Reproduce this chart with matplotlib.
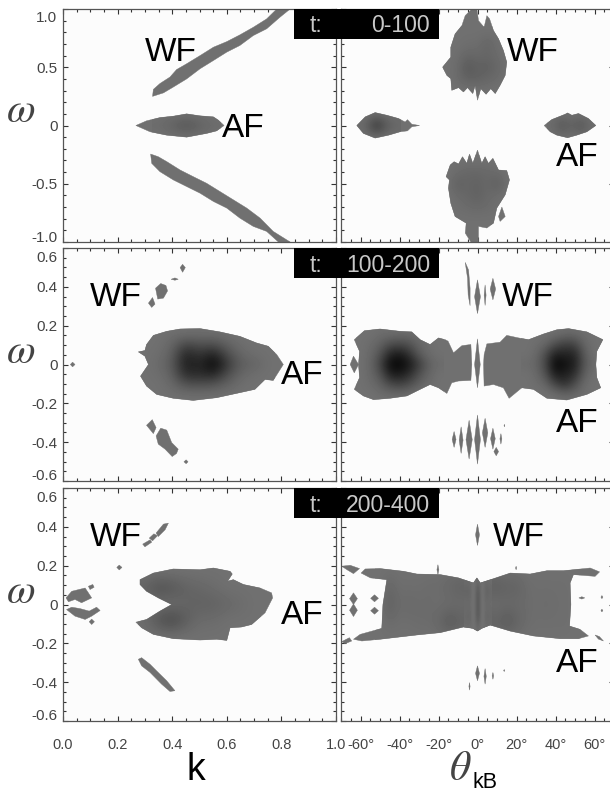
import numpy as np
import matplotlib
matplotlib.use('Agg')
import matplotlib.pyplot as plt
from matplotlib.patches import Polygon, Rectangle
from matplotlib.ticker import MultipleLocator
from matplotlib.transforms import ScaledTranslation

plt.rcParams['font.family'] = ['Liberation Sans', 'DejaVu Sans']
plt.rcParams['mathtext.fontset'] = 'stix'

W, H = 610, 794
BASE = 0.44
BG = '#fcfcfc'

#%% tick labels and text
k_ticks = [0.0, 0.2, 0.4, 0.6, 0.8, 1.0]
theta_ticks = [-60, -40, -20, 0, 20, 40, 60]
w_ticks_top = [-1.0, -0.5, 0, 0.5, 1.0]
w_labels_top = ['-1.0', '-0.5', '0', '0.5', '1.0']
w_ticks = [-0.6, -0.4, -0.2, 0, 0.2, 0.4, 0.6]
w_labels = ['-0.6', '-0.4', '-0.2', '0', '0.2', '0.4', '0.6']
time_labels = ['0-100', '100-200', '200-400']

#%% panel 1, k
p1k_wf_up = [(.328,.25),(.331,.31),(.355,.36),(.392,.416),(.416,.48),(.453,.53),(.502,.60),(.551,.672),(.60,.72),(.648,.778),(.697,.843),(.746,.915),(.783,1.0),(.832,1.0),(.795,.93),(.746,.83),(.697,.772),(.648,.687),(.60,.63),(.551,.558),(.502,.487),(.453,.40),(.404,.33),(.368,.28)]
p1k_af = [(.267,0),(.306,.04),(.355,.068),(.404,.08),(.453,.10),(.502,.083),(.551,.074),(.569,.046),(.59,0),(.563,-.046),(.526,-.068),(.453,-.10),(.38,-.083),(.319,-.054)]
p1k_wf_dn = [(.321,-.245),(.349,-.268),(.38,-.31),(.429,-.382),(.477,-.439),(.526,-.496),(.575,-.567),(.624,-.638),(.673,-.709),(.722,-.795),(.77,-.909),(.832,-1.0),(.789,-1.0),(.746,-.909),(.697,-.866),(.648,-.795),(.60,-.709),(.551,-.652),(.502,-.581),(.453,-.524),(.404,-.467),(.355,-.396),(.325,-.325)]
p1k_af_x = [.35, .40, .45, .50, .55]
p1k_af_y = [-.1, 0, .1]
p1k_af_v = [[.44,.44,.44,.44,.44],[.42,.38,.32,.38,.42],[.44,.44,.44,.44,.44]]

#%% panel 1, theta
p1t_wf_up = [(0,.217),(1.7,.316),(4.4,.268),(6.8,.316),(9.1,.274),(11.6,.345),(14.2,.43),(15,.544),(13.3,.644),(10.8,.744),(8.2,.815),(6.2,.915),(4.8,.943),(3.4,.843),(.5,.90),(-.3,1.0),(-2.9,1.0),(-6.3,.943),(-8,.858),(-11.5,.786),(-13.7,.672),(-13.7,.587),(-17.9,.501),(-15.7,.43),(-13.7,.402),(-13.2,.302),(-9.7,.325),(-7.2,.288),(-5.1,.325),(-2.4,.274),(-1.2,.345)]
p1t_wf_dn = [(0,-.211),(2.2,-.325),(3.9,-.268),(5.6,-.325),(7.9,-.282),(10.8,-.382),(15,-.387),(16.4,-.467),(14.2,-.595),(9.9,-.709),(8.2,-.838),(4.8,-.88),(.5,-.866),(.5,-1),(-3.4,-1),(-6.3,-.923),(-5.8,-.838),(-11.5,-.781),(-13.7,-.667),(-14.9,-.538),(-14.4,-.467),(-16.1,-.439),(-14,-.339),(-12,-.311),(-9.7,-.33),(-7.7,-.268),(-5.5,-.325),(-4.1,-.245),(-2.4,-.325)]
p1t_island = [(10.8,-.781),(12.5,-.70),(14.2,-.781),(11.6,-.823)]
p1t_af_l = [(-61.9,0),(-57.6,.074),(-52.5,.111),(-46.5,.088),(-40.5,.06),(-37.1,.03),(-35.9,.05),(-33.7,.011),(-29.7,0),(-33.7,-.011),(-35.9,-.046),(-39.7,-.054),(-45.6,-.083),(-52.5,-.108),(-58.5,-.068)]
p1t_af_r = [(34.2,0),(38.1,.051),(45,.097),(46.2,.108),(48.4,.088),(51.8,.103),(56.9,.06),(60.7,0),(56.1,-.054),(50.9,-.083),(46.2,-.105),(40.7,-.083),(37.3,-.054)]
p1t_up_x = [-15, -10, -5, 0, 5, 10, 15]
p1t_up_y = [.3, .4, .5, .6, .7, .8]
p1t_up_v = [[.44]*7,[.44,.42,.38,.38,.40,.42,.44],[.44,.42,.34,.38,.37,.40,.44],[.44,.43,.40,.41,.40,.42,.44],[.44,.44,.43,.43,.39,.43,.44],[.44]*7]
p1t_dn_x = [-15, -10, -5, 0, 5, 10, 15]
p1t_dn_y = [-.8, -.7, -.6, -.5, -.4, -.3]
p1t_dn_v = [[.44]*7,[.44,.43,.42,.41,.42,.43,.44],[.44,.42,.40,.38,.41,.43,.44],[.44,.37,.40,.38,.41,.36,.44],[.44,.42,.40,.40,.41,.42,.44],[.44]*7]
p1t_afl_x = [-62, -57, -52, -47, -42]
p1t_afl_y = [-.1, 0, .1]
p1t_afl_v = [[.44]*5,[.42,.38,.18,.34,.40],[.44]*5]
p1t_afr_x = [38, 43, 48, 53, 58]
p1t_afr_y = [-.1, 0, .1]
p1t_afr_v = [[.44]*5,[.42,.32,.38,.32,.42],[.44]*5]

#%% panel 2, k
p2k_af = [(.276,.065),(.30,.072),(.306,.103),(.331,.15),(.38,.171),(.429,.183),(.502,.185),(.575,.168),(.648,.145),(.709,.111),(.752,.094),(.783,.051),(.807,0),(.77,-.082),(.74,-.077),(.703,-.128),(.648,-.145),(.563,-.171),(.477,-.185),(.404,-.174),(.343,-.154),(.306,-.111),(.284,-.06),(.313,0),(.30,.043)]
p2k_af_x = [.30, .35, .40, .45, .50, .55, .60, .65, .70, .75]
p2k_af_y = [-.2, -.15, -.1, -.05, 0, .05, .1, .15, .2]
p2k_af_v = [[.44]*10,
    [.44,.44,.43,.42,.42,.42,.43,.44,.44,.44],
    [.44,.44,.41,.31,.30,.32,.38,.43,.44,.44],
    [.44,.43,.38,.16,.18,.13,.30,.40,.43,.44],
    [.44,.42,.36,.10,.16,.02,.22,.37,.39,.44],
    [.44,.43,.38,.13,.22,.12,.30,.40,.43,.44],
    [.44,.44,.40,.27,.32,.30,.38,.43,.44,.44],
    [.44,.44,.43,.42,.42,.42,.43,.44,.44,.44],
    [.44]*10]
p2k_small = [
    [(.339,.393),(.358,.417),(.377,.407),(.383,.379),(.368,.342),(.347,.337)],
    [(.313,.316),(.328,.345),(.337,.311),(.325,.294)],
    [(.396,.439),(.41,.446),(.422,.439),(.41,.434)],
    [(.429,.499),(.438,.516),(.448,.499),(.438,.475)],
    [(.027,0),(.035,.012),(.044,0),(.035,-.012)],
    [(.306,-.313),(.327,-.284),(.341,-.325),(.331,-.356)],
    [(.341,-.368),(.358,-.328),(.38,-.338),(.398,-.402),(.422,-.436),(.416,-.458),(.40,-.474),(.374,-.436),(.349,-.41)],
    [(.443,-.501),(.451,-.491),(.458,-.501),(.451,-.511)],
]

#%% panel 2, theta
p2t_left = [(-63.2,.128),(-58,.174),(-50,.183),(-39.7,.171),(-33.7,.168),(-29.4,.128),(-24.3,.103),(-20,.137),(-16.6,.128),(-15.1,.12),(-12.3,.06),(-8,.097),(-3.4,.103),(-2.9,0),(-3.4,-.082),(-9.7,-.085),(-13.2,-.094),(-15.7,-.149),(-20,-.12),(-24.3,-.103),(-29.4,-.128),(-36.2,-.162),(-44.8,-.174),(-53.3,-.181),(-58.5,-.162),(-63.2,-.128),(-60.5,-.068),(-61,0),(-60.5,.068)]
p2t_right = [(4.8,.106),(11.6,.115),(15,.15),(21,.137),(26.2,.128),(33.8,.157),(40.7,.179),(46.7,.185),(56.1,.168),(64.3,.128),(61.2,.068),(60.7,0),(61.2,-.068),(63.2,-.12),(56.1,-.154),(45.8,-.183),(35.6,-.174),(28.7,-.128),(22.7,-.12),(16.2,-.174),(13.3,-.12),(8.2,-.103),(3.4,-.111),(3.1,0),(3.4,.051)]
p2t_mid = [(0,.132),(1.4,0),(0,-.12),(-1.5,0)]
p2t_side = [(-65.3,0),(-63.6,.043),(-61,0),(-63.2,-.043)]
p2t_curve = [(-6.3,.526),(-4.6,.487),(-3.8,.393),(-3.8,.303),(-4.8,.359),(-5.1,.444)]
p2t_left_x = [-60, -55, -50, -45, -40, -35, -30, -25, -20]
p2t_left_y = [-.2, -.15, -.1, -.05, 0, .05, .1, .15, .2]
p2t_left_v = [[.44]*9,
    [.44,.44,.42,.41,.40,.42,.44,.44,.44],
    [.44,.42,.38,.28,.25,.30,.38,.42,.44],
    [.44,.41,.32,.12,.10,.18,.32,.40,.44],
    [.44,.40,.26,.04,.02,.10,.24,.38,.42],
    [.44,.41,.32,.14,.10,.20,.36,.42,.44],
    [.44,.42,.38,.30,.28,.32,.40,.43,.44],
    [.44,.44,.42,.42,.41,.41,.43,.44,.44],
    [.44]*9]
p2t_right_x = [25, 30, 35, 40, 45, 50, 55, 60, 65]
p2t_right_y = [-.2, -.15, -.1, -.05, 0, .05, .1, .15, .2]
p2t_right_v = [[.44]*9,
    [.44,.44,.44,.42,.38,.40,.43,.44,.44],
    [.44,.43,.40,.26,.18,.30,.42,.44,.44],
    [.44,.42,.32,.10,.12,.18,.38,.44,.44],
    [.42,.40,.28,.02,.06,.12,.34,.42,.44],
    [.44,.42,.30,.12,.14,.14,.36,.44,.44],
    [.44,.43,.40,.30,.24,.26,.40,.44,.44],
    [.44,.44,.44,.43,.40,.40,.43,.44,.44],
    [.44]*9]
# spindles: centre angle, top, bottom, half width
p2t_sp_t = [0, 3.9, 7.9, -12, -8.4, -4.3, 0, 3.9, 7.9, 12, 9.6, 13.8]
p2t_sp_hi = [.436, .41, .444, -.345, -.321, -.287, -.26, -.277, -.328, -.356, -.427, -.308]
p2t_sp_lo = [.262, .304, .333, -.427, -.458, -.487, -.513, -.427, -.436, -.41, -.47, -.321]
p2t_sp_hw = [1.5, .5, 1.4, 1, 1, 1.6, 1.5, 1.4, 1.2, .5, 1.2, .2]

#%% panel 3, k
p3k_af = [(.282,.103),(.282,.128),(.331,.162),(.404,.183),(.502,.179),(.551,.188),(.612,.171),(.62,.157),(.603,.12),(.624,.128),(.661,.103),(.722,.085),(.764,.06),(.768,.034),(.74,-.043),(.691,-.103),(.654,-.116),(.612,-.12),(.60,-.185),(.563,-.179),(.502,-.183),(.404,-.176),(.331,-.154),(.288,-.12),(.267,-.091),(.306,-.077),(.355,-.034),(.398,0),(.349,.034),(.306,.068)]
p3k_af_x = [.30, .35, .40, .45, .50, .55, .60, .65, .70]
p3k_af_y = [-.16, -.08, 0, .08, .16]
p3k_af_v = [[.44]*9,[.42,.32,.26,.36,.42,.42,.44,.44,.44],[.44,.44,.44,.40,.38,.38,.40,.42,.44],[.38,.30,.33,.38,.40,.42,.44,.44,.44],[.44]*9]
p3k_small = [
    [(.011,.034),(.032,.068),(.081,.085),(.093,.06),(.105,.034),(.068,.009),(.044,.026),(.02,.014)],
    [(.093,.094),(.109,.103),(.114,.089),(.099,.077)],
    [(.013,-.026),(.032,-.014),(.062,-.021),(.096,-.034),(.123,-.014),(.136,-.031),(.105,-.06),(.081,-.077),(.044,-.06)],
    [(.096,-.089),(.105,-.075),(.115,-.089),(.105,-.103)],
    [(.197,.191),(.206,.203),(.216,.191),(.206,.178)],
    [(.292,.311),(.319,.333),(.325,.321),(.30,.297)],
    [(.316,.342),(.333,.364),(.346,.354),(.328,.328)],
    [(.341,.368),(.368,.414),(.386,.419),(.374,.385),(.349,.35)],
    [(.276,-.282),(.288,-.274),(.319,-.308),(.343,-.342),(.38,-.393),(.41,-.444),(.392,-.448),(.361,-.41),(.319,-.35),(.288,-.316)],
]

#%% panel 3, theta
p3t_main = [(-59.7,.162),(-57.6,.183),(-49.9,.185),(-37.9,.171),(-31.1,.157),(-19.1,.154),(-9.7,.137),(-2.1,.111),(-.3,.137),(1.4,.111),(8.2,.133),(16.8,.162),(27,.157),(35.6,.174),(44.1,.174),(57.8,.188),(62.6,.168),(60.3,.145),(49.2,.154),(47.5,.111),(47.9,0),(47.2,-.111),(52.6,-.128),(56.9,-.162),(51.8,-.176),(42.4,-.176),(28.7,-.162),(16.8,-.137),(6.5,-.106),(2.2,-.123),(0,-.137),(-2.4,-.123),(-7.2,-.116),(-19.1,-.145),(-31.1,-.157),(-49.9,-.179),(-59.3,-.188),(-63.6,-.179),(-60.2,-.154),(-49.1,-.123),(-48.5,0),(-46.5,.128),(-54.9,.137)]
p3t_main_x = [-50,-45,-40,-35,-30,-25,-20,-15,-10,-5,0,5,10,15,20,25,30,35,40,45,50]
p3t_main_y = [-.18, -.09, 0, .09, .18]
p3t_main_v = [[.44]*21,
    [.44,.42,.43,.43,.42,.42,.40,.34,.37,.38,.36,.36,.38,.34,.38,.42,.43,.43,.43,.43,.44],
    [.44,.37,.42,.41,.42,.42,.43,.43,.42,.43,.32,.43,.43,.42,.42,.42,.43,.42,.43,.43,.44],
    [.44,.40,.43,.43,.43,.42,.42,.40,.38,.38,.36,.37,.36,.38,.38,.42,.43,.43,.43,.43,.44],
    [.44]*21]
p3t_mid_x = [-6, -4, -2, 0, 2, 4, 6]
p3t_mid_y = [-.14, -.07, 0, .07, .14]
p3t_mid_v = [[.44]*7,
    [.40,.38,.48,.30,.48,.38,.40],
    [.43,.42,.46,.32,.46,.42,.43],
    [.38,.38,.48,.30,.48,.36,.40],
    [.44]*7]
p3t_small = [
    [(-69.6,.197),(-65.3,.202),(-60.5,.185),(-63.6,.159),(-66.9,.179)],
    [(-69.6,-.191),(-65.7,-.171),(-64.5,-.188),(-67.9,-.202)],
    [(60.3,-.157),(62.5,-.165),(64.6,-.188),(62,-.178)],
]
p3t_sp_t = [0, -20.3, 0, 3.9, 7.9, -4.1, 13.7, -63.6, -63.6, -52.8, -52.8, 53.5, 63.8, 63.8, 19.8]
p3t_sp_hi = [.414, .205, -.316, -.33, -.35, -.402, -.335, .06, .003, .05, -.014, .04, .046, -.024, .197]
p3t_sp_lo = [.304, .154, -.393, -.41, -.385, -.441, -.345, 0, -.062, .014, -.05, .028, .03, -.038, .179]
p3t_sp_hw = [1, .5, 1, .6, .4, .3, .3, 2, 2, 2, 2, 1.5, .5, .5, .3]

#%% helpers
def axes_px(left, top, right, bottom):
    return fig.add_axes([left/W, 1-bottom/H, (right-left)/W, (bottom-top)/H])

def shade(ax, patch, xs, ys, vals, z=3):
    dx = (xs[1]-xs[0])/2
    dy = (ys[1]-ys[0])/2
    im = ax.imshow(np.array(vals), extent=[xs[0]-dx, xs[-1]+dx, ys[0]-dy, ys[-1]+dy],
                   origin='lower', aspect='auto', cmap='gray', vmin=0, vmax=1,
                   interpolation='bicubic', zorder=z)
    im.set_clip_path(patch)

def blob(ax, outline, xs=None, ys=None, vals=None):
    patch = Polygon(outline, closed=True, fc=str(BASE), ec=str(BASE), lw=0.3, zorder=2)
    ax.add_patch(patch)
    if vals is not None:
        shade(ax, patch, xs, ys, vals)
    return patch

def spindles(ax, xc, hi, lo, hw):
    for x, a, b, w in zip(xc, hi, lo, hw):
        blob(ax, [(x, a), (x+w, (a+b)/2), (x, b), (x-w, (a+b)/2)])

def style(ax, xlim, ylim, xmajor, xminor, yticks, ylabels, yminor, showx=False, showy=False):
    ax.set_xlim(*xlim)
    ax.set_ylim(*ylim)
    ax.set_facecolor(BG)
    ax.set_xticks(xmajor)
    ax.xaxis.set_minor_locator(MultipleLocator(xminor))
    ax.set_yticks(yticks)
    ax.yaxis.set_minor_locator(MultipleLocator(yminor))
    ax.tick_params(which='major', direction='in', top=True, right=True, length=3.8, width=0.8, color='#333333',
                   labelcolor='#444444', labelbottom=showx, labelleft=showy)
    ax.tick_params(which='minor', direction='in', top=True, right=True, length=2, width=0.8, color='#333333')
    ax.tick_params(axis='x', labelsize=10.5, pad=12)
    ax.tick_params(axis='y', labelsize=11, pad=4)
    if showy:
        ax.set_yticklabels(ylabels)
        labs = ax.get_yticklabels()
        down = ScaledTranslation(0, -2.5/100, fig.dpi_scale_trans)
        labs[0].set_va('bottom')
        labs[-1].set_va('top')
        labs[0].set_transform(labs[0].get_transform() + down)
        labs[-1].set_transform(labs[-1].get_transform() + down)
    for s in ax.spines.values():
        s.set_color('#555555')
        s.set_linewidth(0.9)

def label(ax, x, y, s):
    ax.text(x, y, s, fontsize=24, color='black', ha='left', va='baseline', zorder=6)

#%% figure
fig = plt.figure(figsize=(W/100, H/100), dpi=100, facecolor='white')
rows = [(9, 242), (248, 481), (488, 721)]
axk = [axes_px(63, t, 336, b) for t, b in rows]
axt = [axes_px(341, t, 614, b) for t, b in rows]

# panel 1
blob(axk[0], p1k_wf_up)
blob(axk[0], p1k_af, p1k_af_x, p1k_af_y, p1k_af_v)
blob(axk[0], p1k_wf_dn)
blob(axt[0], p1t_wf_up, p1t_up_x, p1t_up_y, p1t_up_v)
blob(axt[0], p1t_wf_dn, p1t_dn_x, p1t_dn_y, p1t_dn_v)
blob(axt[0], p1t_island)
blob(axt[0], p1t_af_l, p1t_afl_x, p1t_afl_y, p1t_afl_v)
blob(axt[0], p1t_af_r, p1t_afr_x, p1t_afr_y, p1t_afr_v)

# panel 2
blob(axk[1], p2k_af, p2k_af_x, p2k_af_y, p2k_af_v)
for s in p2k_small:
    blob(axk[1], s)
blob(axt[1], p2t_left, p2t_left_x, p2t_left_y, p2t_left_v)
blob(axt[1], p2t_right, p2t_right_x, p2t_right_y, p2t_right_v)
blob(axt[1], p2t_mid)
blob(axt[1], p2t_side)
blob(axt[1], p2t_curve)
spindles(axt[1], p2t_sp_t, p2t_sp_hi, p2t_sp_lo, p2t_sp_hw)

# panel 3
blob(axk[2], p3k_af, p3k_af_x, p3k_af_y, p3k_af_v)
for s in p3k_small:
    blob(axk[2], s)
main = blob(axt[2], p3t_main, p3t_main_x, p3t_main_y, p3t_main_v)
shade(axt[2], main, p3t_mid_x, p3t_mid_y, p3t_mid_v, z=4)
for s in p3t_small:
    blob(axt[2], s)
spindles(axt[2], p3t_sp_t, p3t_sp_hi, p3t_sp_lo, p3t_sp_hw)

for i in range(3):
    wt, wl, wm, ylim = (w_ticks_top, w_labels_top, 0.1, (-1, 1)) if i == 0 else (w_ticks, w_labels, 0.05, (-.6, .6))
    style(axk[i], (0, 1), ylim, k_ticks, 0.05, wt, wl, wm, showx=i == 2, showy=True)
    style(axt[i], (-70, 70), ylim, theta_ticks, 5, wt, wl, wm, showx=i == 2)
axk[2].set_xticklabels(['%.1f' % v for v in k_ticks])
axt[2].set_xticklabels(['%d°' % v for v in theta_ticks])

label(axk[0], .30, .552, 'WF')
label(axk[0], .582, -.10, 'AF')
label(axt[0], 15.2, .552, 'WF')
label(axt[0], 40.4, -.347, 'AF')
label(axk[1], .099, .299, 'WF')
label(axk[1], .80, -.099, 'AF')
label(axt[1], 12.5, .299, 'WF')
label(axt[1], 40.4, -.35, 'AF')
label(axk[2], .099, .299, 'WF')
label(axk[2], .80, -.099, 'AF')
label(axt[2], 7.7, .299, 'WF')
label(axt[2], 40.4, -.349, 'AF')

# black time boxes across the two columns
for (t, b), tl, base in zip(rows, time_labels, [32.3, 272, 512]):
    fig.add_artist(Rectangle((294/W, 1-(t+29.5)/H), 145/W, 30/H, transform=fig.transFigure, fc='black', ec='none', zorder=10))
    fig.text(310/W, 1-base/H, 't:', fontsize=16.6, color='#c8c8c8', va='baseline', ha='left', zorder=11)
    fig.text(430/W, 1-base/H, tl, fontsize=16.6, color='#c8c8c8', va='baseline', ha='right', zorder=11)

for y in [111, 352, 592]:
    fig.text(20.5/W, 1-y/H, r'$\omega$', fontsize=30, color='#444444', ha='center', va='center')
fig.text(196/W, 1-780/H, 'k', fontsize=27, color='black', ha='center', va='baseline')
fig.text(460/W, 1-780/H, r'$\theta$', fontsize=30, color='#444444', ha='center', va='baseline')
fig.text(472/W, 1-788.5/H, 'kB', fontsize=15.5, color='black', ha='left', va='baseline')

fig.savefig('out.png', dpi=100, facecolor='white')
